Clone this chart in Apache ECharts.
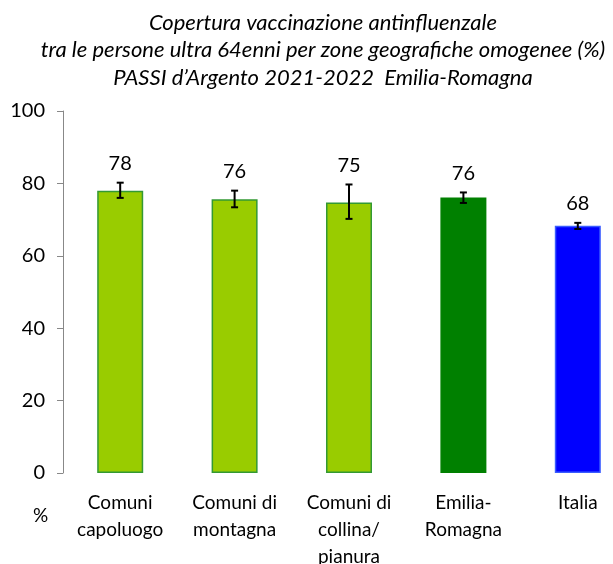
<!DOCTYPE html>
<html>
<head>
<meta charset="utf-8">
<script src="https://cdn.jsdelivr.net/npm/echarts@6/dist/echarts.min.js"></script>
<style>
  html, body { margin: 0; padding: 0; background: #fff; }
  #chart { width: 613px; height: 564px; }
</style>
</head>
<body>
<div id="chart"></div>
<script>
// data
const titleLines = [
  'Copertura vaccinazione antinfluenzale',
  'tra le persone ultra 64enni per zone geografiche omogenee (%)',
  'PASSI d\u2019Argento 2021-2022  Emilia-Romagna'
];
const categories = ['Comuni\ncapoluogo', 'Comuni di\nmontagna', 'Comuni di\ncollina/\npianura', 'Emilia-\nRomagna', 'Italia'];
const coverage = [78.0, 75.6, 74.7, 76.1, 68.3];
const ciLower = [76.0, 73.4, 70.2, 74.6, 67.4];
const ciUpper = [80.2, 78.0, 79.7, 77.5, 69.1];
const yTicks = [0, 20, 40, 60, 80, 100];

const FONT = 'Lato';
const barColors = ['#99cc00', '#99cc00', '#99cc00', '#008000', '#0000ff'];
const barBorders = ['#339933', '#339933', '#339933', '#008000', '#3a5cff'];

const chart = echarts.init(document.getElementById('chart'));

const option = {
  animation: false,
  textStyle: { fontFamily: FONT },
  graphic: [
    {
      // title, centred a bit right of the page centre like the original
      type: 'text', x: 323, y: 9,
      style: {
        text: titleLines.join('\n'),
        align: 'center', verticalAlign: 'top',
        font: 'italic 22px ' + FONT, lineHeight: 27.5, fill: '#000'
      }
    },
    { type: 'text', left: 33, top: 506, style: { text: '%', font: '19px ' + FONT, fill: '#000' } }
  ],
  grid: { left: 63, top: 111, width: 572, height: 362, outerBoundsMode: 'none' },
  xAxis: {
    type: 'category',
    data: categories,
    axisLine: { show: false },
    axisTick: { show: false },
    axisLabel: { color: '#000', fontSize: 19, fontFamily: FONT, lineHeight: 27, margin: 16, interval: 0 }
  },
  yAxis: {
    type: 'value',
    min: yTicks[0],
    max: yTicks[yTicks.length - 1],
    interval: 20,
    splitLine: { show: false },
    axisLine: { show: true, lineStyle: { color: '#888', width: 1 } },
    axisTick: { show: true, length: 6, lineStyle: { color: '#888' } },
    axisLabel: { color: '#000', fontSize: 20, fontFamily: FONT, margin: 18 }
  },
  series: [
    {
      type: 'bar',
      barWidth: 46,
      data: coverage.map((v, i) => ({
        value: v,
        itemStyle: { color: barColors[i], borderColor: barBorders[i], borderWidth: 1.5 }
      }))
    },
    {
      type: 'custom',
      data: categories.map((c, i) => [i, ciLower[i], ciUpper[i], coverage[i]]),
      renderItem: function (params, api) {
        const lo = api.coord([api.value(0), api.value(1)]);
        const hi = api.coord([api.value(0), api.value(2)]);
        const cap = 3.5;
        const style = { stroke: '#000', lineWidth: 2 };
        return {
          type: 'group',
          children: [
            { type: 'line', shape: { x1: hi[0], y1: hi[1], x2: lo[0], y2: lo[1] }, style },
            { type: 'line', shape: { x1: hi[0] - cap, y1: hi[1], x2: hi[0] + cap, y2: hi[1] }, style },
            { type: 'line', shape: { x1: lo[0] - cap, y1: lo[1], x2: lo[0] + cap, y2: lo[1] }, style },
            {
              type: 'text',
              style: {
                text: String(Math.round(api.value(3))),
                x: hi[0], y: hi[1] - 9,
                align: 'center', verticalAlign: 'bottom',
                font: '20px ' + FONT, fill: '#000'
              }
            }
          ]
        };
      },
      z: 3
    }
  ]
};

chart.setOption(option);
</script>
</body>
</html>
